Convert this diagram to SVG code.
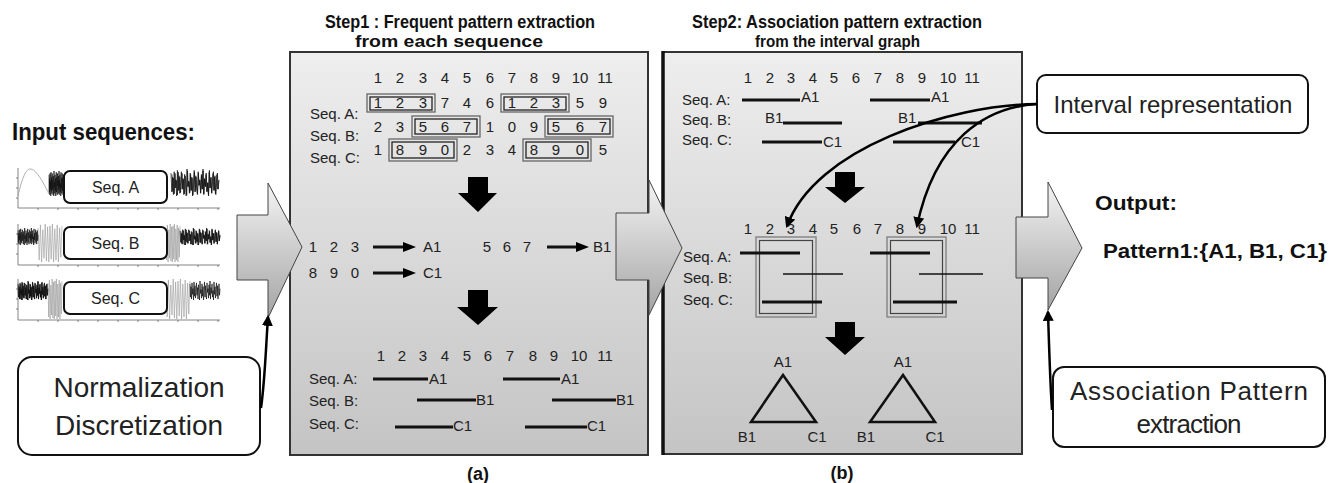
<svg xmlns="http://www.w3.org/2000/svg" xmlns:xlink="http://www.w3.org/1999/xlink" width="1331" height="483" viewBox="0 0 1331 483">
<style>
text{font-family:"Liberation Sans",Arial,sans-serif;fill:#222}
.t15{font-size:15px}
.mid{text-anchor:middle}
.bold{font-weight:bold;fill:#111}
.panel{stroke:#333;stroke-width:2}
.bigarrow{fill:url(#garrow);stroke:#444;stroke-width:1}
.blk{fill:#000}
.ln3{stroke:#111;stroke-width:3}
.ln15{stroke:#111;stroke-width:1.5}
.boxo{fill:none;stroke:#666;stroke-width:1.3}
.boxi{fill:none;stroke:#222;stroke-width:1.3}
.call{fill:#fff;stroke:#111;stroke-width:2}
.conn{fill:none;stroke:#000;stroke-width:2.5}
.axis{stroke:#666;stroke-width:0.8;fill:none}
</style>
<defs>
<linearGradient id="gpanel" x1="0" y1="0" x2="0" y2="1">
<stop offset="0" stop-color="#eeeeee"/>
<stop offset="1" stop-color="#c4c4c4"/>
</linearGradient>
<linearGradient id="garrow" x1="0" y1="0" x2="0" y2="1">
<stop offset="0" stop-color="#f4f4f4"/>
<stop offset="1" stop-color="#a4a4a4"/>
</linearGradient>
<marker id="ah" viewBox="0 0 10 10" refX="8" refY="5" markerWidth="11" markerHeight="11" markerUnits="userSpaceOnUse" orient="auto">
<path d="M0,0 L10,5 L0,10 z" fill="#000"/>
</marker>
<polyline id="nz" fill="none" stroke="#111" stroke-width="0.7" vector-effect="non-scaling-stroke" points="0,3 0.5,17 1,6 1.5,19 2,2 2.5,14 3,8 3.5,20 4,1 4.5,16 5,5 5.5,18 6,10 6.5,2 7,15 7.5,7 8,19 8.5,4 9,12 9.5,20 10,0 10.5,13 11,9 11.5,18 12,3 12.5,16 13,6 13.5,20 14,11 14.5,1 15,17 15.5,5 16,14 16.5,19 17,2 17.5,12 18,8 18.5,18 19,4 19.5,15 20,0 20.5,19 21,7 21.5,13 22,3 22.5,17 23,10 23.5,20 24,1 24.5,14 25,6 25.5,18 26,9 26.5,2 27,16 27.5,5 28,19 28.5,11 29,3 29.5,15 30,8"/>
<polyline id="osc" fill="none" stroke="#999" stroke-width="0.6" vector-effect="non-scaling-stroke" points="0,4 1,38 2,1 3,40 4,6 5,36 6,0 7,39 8,3 9,40 10,2 11,37 12,0 13,40 14,5 15,38 16,1 17,40 18,4 19,35 20,2"/>
</defs>

<rect width="1331" height="483" fill="#fff"/>

<!-- Input section -->
<g id="input">
<text x="12" y="140" class="bold" font-size="23" textLength="183" lengthAdjust="spacingAndGlyphs">Input sequences:</text>
<g id="plotA">
<path class="axis" d="M18,168 V208 H220 M18,178 h-2 M18,188 h-2 M18,198 h-2 M38,208 v2 M58,208 v2 M78,208 v2 M98,208 v2 M118,208 v2 M138,208 v2 M158,208 v2 M178,208 v2 M198,208 v2 M218,208 v2"/>
<path d="M18,196 C22,178 26,169 30,169 C36,169 42,180 49,194" fill="none" stroke="#999" stroke-width="0.8"/>
<use href="#nz" transform="translate(49,171) scale(0.5,1.25)"/>
<use href="#nz" transform="translate(171,169) scale(1.6,1.35)"/>
<use href="#nz" transform="translate(172,171) scale(1.55,1.2)"/>
</g>
<g id="plotB">
<path class="axis" d="M18,224 V265 H220 M18,234 h-2 M18,244 h-2 M18,254 h-2 M38,265 v2 M58,265 v2 M78,265 v2 M98,265 v2 M118,265 v2 M138,265 v2 M158,265 v2 M178,265 v2 M198,265 v2 M218,265 v2"/>
<use href="#osc" transform="translate(38,224) scale(1.2,0.95)"/>
<use href="#osc" transform="translate(166,224) scale(0.7,0.95)"/>
<use href="#nz" transform="translate(18,228) scale(0.667,0.85)"/>
<use href="#nz" transform="translate(180,228) scale(1.333,0.85)"/>
<use href="#nz" transform="translate(181,229) scale(1.3,0.8)"/>
</g>
<g id="plotC">
<path class="axis" d="M18,279 V320 H220 M18,289 h-2 M18,299 h-2 M18,309 h-2 M38,320 v2 M58,320 v2 M78,320 v2 M98,320 v2 M118,320 v2 M138,320 v2 M158,320 v2 M178,320 v2 M198,320 v2 M218,320 v2"/>
<use href="#osc" transform="translate(48,279) scale(0.7,1)"/>
<use href="#osc" transform="translate(166,279) scale(1.2,1)"/>
<use href="#nz" transform="translate(18,281) scale(1,0.95)"/>
<use href="#nz" transform="translate(190,281) scale(1,0.95)"/>
<use href="#nz" transform="translate(19,282) scale(0.95,0.9)"/>
</g>
<g id="seqA"><rect class="call" x="64" y="171" width="103" height="32" rx="6"/><text x="115.5" y="193" class="mid" font-size="16">Seq. A</text></g>
<g id="seqB"><rect class="call" x="64" y="227" width="103" height="32" rx="6"/><text x="115.5" y="249" class="mid" font-size="16">Seq. B</text></g>
<g id="seqC"><rect class="call" x="64" y="282" width="103" height="32" rx="6"/><text x="115.5" y="304" class="mid" font-size="16">Seq. C</text></g>
</g>

<g id="normbox">
<rect class="call" x="18" y="357" width="242" height="98" rx="14"/>
<text x="139" y="397" class="mid" font-size="28">Normalization</text>
<text x="139" y="435" class="mid" font-size="28">Discretization</text>
</g>

<!-- Panel (a) -->
<g id="panelA">
<text x="325" y="28" class="bold" font-size="18" textLength="270" lengthAdjust="spacingAndGlyphs">Step1 : Frequent pattern extraction</text>
<text x="355" y="47" class="bold" font-size="17" textLength="188" lengthAdjust="spacingAndGlyphs">from each sequence</text>
<rect class="panel" x="290" y="52" width="358" height="403" fill="url(#gpanel)"/>
<g class="t15 mid">
<text x="378" y="83">1</text><text x="400" y="83">2</text><text x="423" y="83">3</text><text x="445" y="83">4</text><text x="467" y="83">5</text><text x="490" y="83">6</text><text x="512" y="83">7</text><text x="534" y="83">8</text><text x="556" y="83">9</text><text x="580" y="83">10</text><text x="605" y="83">11</text>
<text x="378" y="108">1</text><text x="400" y="108">2</text><text x="423" y="108">3</text><text x="445" y="108">7</text><text x="467" y="108">4</text><text x="490" y="108">6</text><text x="512" y="108">1</text><text x="534" y="108">2</text><text x="556" y="108">3</text><text x="580" y="108">5</text><text x="603" y="108">9</text>
<text x="378" y="132">2</text><text x="400" y="132">3</text><text x="423" y="132">5</text><text x="445" y="132">6</text><text x="467" y="132">7</text><text x="490" y="132">1</text><text x="512" y="132">0</text><text x="534" y="132">9</text><text x="556" y="132">5</text><text x="580" y="132">6</text><text x="603" y="132">7</text>
<text x="378" y="155">1</text><text x="400" y="155">8</text><text x="423" y="155">9</text><text x="445" y="155">0</text><text x="467" y="155">2</text><text x="490" y="155">3</text><text x="512" y="155">4</text><text x="534" y="155">8</text><text x="556" y="155">9</text><text x="580" y="155">0</text><text x="603" y="155">5</text>
</g>
<text x="310" y="119" class="t15">Seq. A:</text>
<text x="310" y="141" class="t15">Seq. B:</text>
<text x="310" y="163" class="t15">Seq. C:</text>
<rect class="boxo" x="367" y="94" width="68" height="18"/><rect class="boxi" x="370" y="97" width="62" height="13"/>
<rect class="boxo" x="501" y="94" width="68" height="18"/><rect class="boxi" x="504" y="97" width="62" height="13"/>
<rect class="boxo" x="412" y="116" width="68" height="21"/><rect class="boxi" x="415" y="119" width="62" height="15"/>
<rect class="boxo" x="545" y="116" width="68" height="21"/><rect class="boxi" x="548" y="119" width="62" height="15"/>
<rect class="boxo" x="389" y="139" width="68" height="22"/><rect class="boxi" x="392" y="142" width="62" height="16"/>
<rect class="boxo" x="523" y="139" width="68" height="22"/><rect class="boxi" x="526" y="142" width="62" height="16"/>
<polygon class="blk" points="468,177 488,177 488,193 497,193 478,212 458,193 468,193"/>
<g class="t15 mid">
<text x="313" y="252">1</text><text x="334" y="252">2</text><text x="355" y="252">3</text>
<text x="487" y="252">5</text><text x="507" y="252">6</text><text x="527" y="252">7</text>
<text x="313" y="278">8</text><text x="334" y="278">9</text><text x="355" y="278">0</text>
</g>
<line x1="373" y1="247" x2="405" y2="247" class="ln3" stroke-width="2.5"/><polygon class="blk" points="403,242 416,247 403,252"/>
<line x1="547" y1="247" x2="578" y2="247" class="ln3" stroke-width="2.5"/><polygon class="blk" points="576,242 589,247 576,252"/>
<line x1="373" y1="273" x2="405" y2="273" class="ln3" stroke-width="2.5"/><polygon class="blk" points="403,268 416,273 403,278"/>
<text x="423" y="252" class="t15">A1</text>
<text x="593" y="252" class="t15">B1</text>
<text x="423" y="278" class="t15">C1</text>
<polygon class="blk" points="468,290 488,290 488,307 498,307 478,325 457,307 468,307"/>
<g class="t15 mid">
<text x="381" y="361">1</text><text x="402" y="361">2</text><text x="423" y="361">3</text><text x="445" y="361">4</text><text x="467" y="361">5</text><text x="488" y="361">6</text><text x="510" y="361">7</text><text x="533" y="361">8</text><text x="554" y="361">9</text><text x="579" y="361">10</text><text x="605" y="361">11</text>
</g>
<text x="309" y="384" class="t15">Seq. A:</text>
<text x="309" y="406" class="t15">Seq. B:</text>
<text x="309" y="429" class="t15">Seq. C:</text>
<line x1="373" y1="379" x2="428" y2="379" class="ln3"/><text x="429" y="384" class="t15">A1</text>
<line x1="503" y1="379" x2="560" y2="379" class="ln3"/><text x="561" y="384" class="t15">A1</text>
<line x1="417" y1="400" x2="476" y2="400" class="ln3"/><text x="476" y="405" class="t15">B1</text>
<line x1="552" y1="400" x2="616" y2="400" class="ln3"/><text x="616" y="405" class="t15">B1</text>
<line x1="395" y1="427" x2="453" y2="427" class="ln3"/><text x="453" y="431" class="t15">C1</text>
<line x1="525" y1="427" x2="587" y2="427" class="ln3"/><text x="587" y="431" class="t15">C1</text>
<text x="478" y="480" class="bold mid" font-size="18">(a)</text>
</g>

<!-- Panel (b) -->
<g id="panelB">
<text x="692" y="28" class="bold" font-size="18" textLength="290" lengthAdjust="spacingAndGlyphs">Step2: Association pattern extraction</text>
<text x="755" y="47" class="bold" font-size="17" textLength="165" lengthAdjust="spacingAndGlyphs">from the interval graph</text>
<rect class="panel" x="663" y="52" width="359" height="402" fill="url(#gpanel)"/>
<line x1="663" y1="51" x2="663" y2="455" stroke="#111" stroke-width="3.5"/>
<g class="t15 mid">
<text x="748" y="83">1</text><text x="770" y="83">2</text><text x="791" y="83">3</text><text x="813" y="83">4</text><text x="834" y="83">5</text><text x="856" y="83">6</text><text x="878" y="83">7</text><text x="900" y="83">8</text><text x="922" y="83">9</text><text x="948" y="83">10</text><text x="972" y="83">11</text>
</g>
<text x="682" y="105" class="t15">Seq. A:</text>
<text x="682" y="125" class="t15">Seq. B:</text>
<text x="682" y="145" class="t15">Seq. C:</text>
<line x1="742" y1="100" x2="800" y2="100" class="ln3"/><text x="801" y="102" class="t15">A1</text>
<line x1="870" y1="100" x2="930" y2="100" class="ln3"/><text x="931" y="102" class="t15">A1</text>
<text x="765" y="123" class="t15">B1</text><line x1="783" y1="123" x2="842" y2="123" class="ln3"/>
<text x="898" y="123" class="t15">B1</text><line x1="918" y1="123" x2="982" y2="123" class="ln3"/>
<line x1="762" y1="142" x2="822" y2="142" class="ln3"/><text x="823" y="147" class="t15">C1</text>
<line x1="893" y1="142" x2="955" y2="142" class="ln3"/><text x="961" y="147" class="t15">C1</text>
<polygon class="blk" points="835,172 855,172 855,187 865,187 845,203 825,187 835,187"/>
<g class="t15 mid">
<text x="748" y="234">1</text><text x="770" y="234">2</text><text x="791" y="234">3</text><text x="813" y="234">4</text><text x="834" y="234">5</text><text x="857" y="234">6</text><text x="878" y="234">7</text><text x="900" y="234">8</text><text x="922" y="234">9</text><text x="948" y="234">10</text><text x="972" y="234">11</text>
</g>
<text x="683" y="262" class="t15">Seq. A:</text>
<text x="683" y="283" class="t15">Seq. B:</text>
<text x="683" y="305" class="t15">Seq. C:</text>
<rect x="756" y="237" width="60" height="80" fill="none" stroke="#888" stroke-width="1.5"/>
<rect x="759.5" y="240.5" width="53" height="73" fill="none" stroke="#444" stroke-width="1.2"/>
<rect x="887" y="237" width="59" height="80" fill="none" stroke="#888" stroke-width="1.5"/>
<rect x="890.5" y="240.5" width="52" height="73" fill="none" stroke="#444" stroke-width="1.2"/>
<line x1="740" y1="253" x2="800" y2="253" class="ln3"/>
<line x1="870" y1="253" x2="930" y2="253" class="ln3"/>
<line x1="783" y1="274" x2="843" y2="274" class="ln15"/>
<line x1="919" y1="274" x2="983" y2="274" class="ln15"/>
<line x1="762" y1="302" x2="822" y2="302" class="ln3"/>
<line x1="893" y1="302" x2="957" y2="302" class="ln3"/>
<polygon class="blk" points="835,322 855,322 855,337 865,337 845,355 825,337 835,337"/>
<text x="783" y="367" class="t15 mid">A1</text>
<polygon points="783,375 751,422 816,422" fill="none" stroke="#111" stroke-width="2.5" stroke-linejoin="miter"/>
<text x="747" y="442" class="t15 mid">B1</text>
<text x="817" y="442" class="t15 mid">C1</text>
<text x="903" y="367" class="t15 mid">A1</text>
<polygon points="903,375 870,422 935,422" fill="none" stroke="#111" stroke-width="2.5" stroke-linejoin="miter"/>
<text x="866" y="442" class="t15 mid">B1</text>
<text x="935" y="442" class="t15 mid">C1</text>
<text x="842" y="479" class="bold mid" font-size="18">(b)</text>
</g>

<!-- Block flow arrows -->
<g id="flow1"><polygon class="bigarrow" points="237,215 268,215 268,183 302,247 268,318 268,280 237,280"/></g>
<g id="flow2"><polygon class="bigarrow" points="616,213 649,213 649,180 682,248 649,315 649,280 616,280"/></g>
<g id="flow3"><polygon class="bigarrow" points="1016,217 1048,217 1048,182 1082,248 1048,310 1048,278 1016,278"/></g>

<!-- Output -->
<g id="output">
<text x="1095" y="210" class="bold" font-size="21" textLength="82" lengthAdjust="spacingAndGlyphs">Output:</text>
<text x="1103" y="258" class="bold" font-size="21" textLength="224" lengthAdjust="spacingAndGlyphs">Pattern1:{A1, B1, C1}</text>
</g>

<g id="intervalbox">
<rect class="call" x="1037" y="75" width="271" height="58" rx="9"/>
<text x="1173" y="113" class="mid" font-size="24">Interval representation</text>
</g>

<g id="assocbox">
<rect class="call" x="1053" y="367" width="272" height="80" rx="11"/>
<text x="1189" y="400" class="mid" font-size="26" textLength="238" lengthAdjust="spacing">Association Pattern</text>
<text x="1189" y="433" class="mid" font-size="26" textLength="105" lengthAdjust="spacing">extraction</text>
</g>

<!-- Connectors -->
<g id="connectors">
<path class="conn" d="M1037,104 C950,105 815,148 787,226" marker-end="url(#ah)"/>
<path class="conn" d="M1037,104 C985,107 935,140 917,226" marker-end="url(#ah)"/>
<path class="conn" d="M261,408 C265,380 266,345 268,317" stroke-width="3" marker-end="url(#ah)"/>
<path class="conn" d="M1052,410 C1050,380 1049,345 1048,312" stroke-width="3" marker-end="url(#ah)"/>
</g>
</svg>
